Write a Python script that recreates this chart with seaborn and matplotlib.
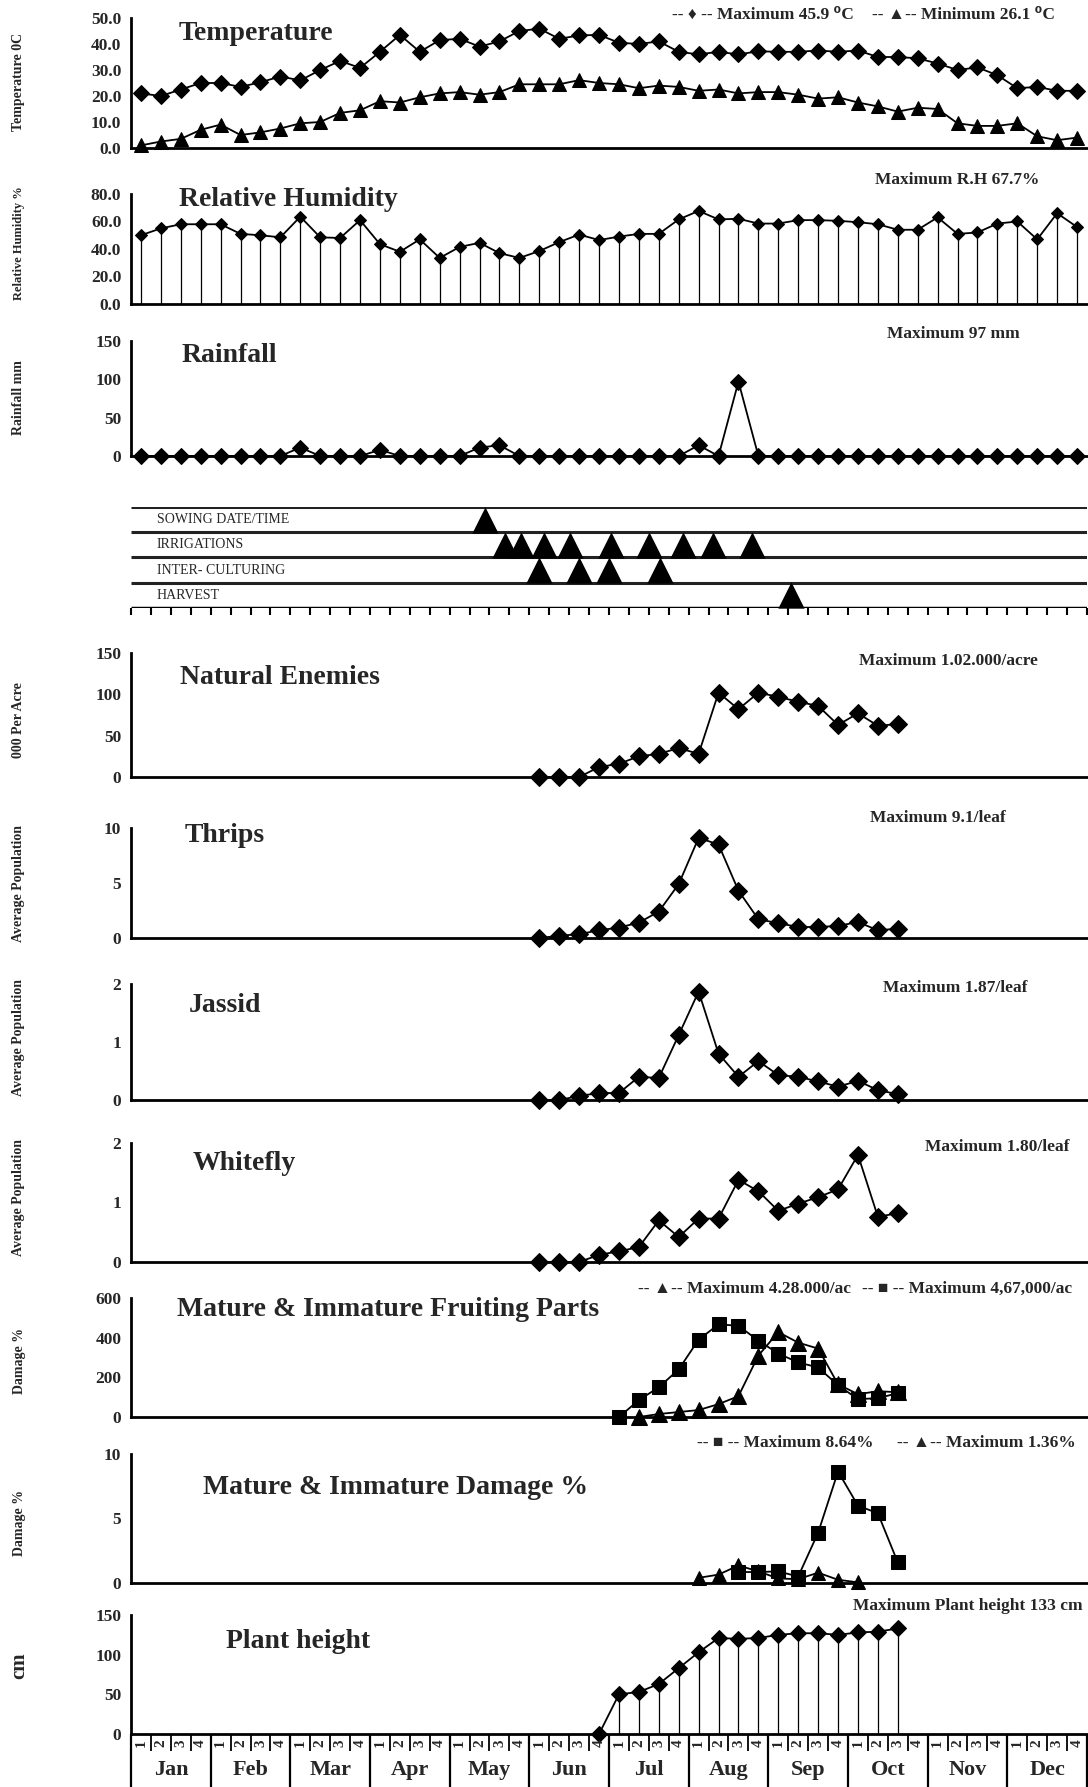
import matplotlib
matplotlib.use('Agg')
import matplotlib.pyplot as plt
import matplotlib.transforms as mtransforms
import seaborn as sns

sns.set_style('white')
plt.rcParams['font.family'] = ['Liberation Serif', 'DejaVu Sans']
plt.rcParams['font.weight'] = 'bold'

# ---- data (week numbers 1..48, four weeks per month) ----
weeks = list(range(1, 49))
months = ['Jan', 'Feb', 'Mar', 'Apr', 'May', 'Jun', 'Jul', 'Aug', 'Sep', 'Oct', 'Nov', 'Dec']

temp_max = [21, 20, 22.5, 25, 25, 23.5, 25.3, 27.5, 26, 30, 33.5, 30.8, 37, 43.5, 37, 41.5,
            42, 39, 41, 45, 45.9, 42, 43.3, 43.5, 40.5, 40, 41, 37, 36, 37, 36, 37.2,
            37, 37, 37.5, 37, 37.5, 35, 35, 34.5, 32.5, 30, 31, 28, 23, 23.5, 22, 22]
temp_min = [1, 2.5, 3.5, 7, 9, 5, 6, 7.5, 9.5, 10, 13.5, 14.5, 18, 17.5, 19.5, 21,
            21.5, 20.5, 21.5, 24.5, 24.5, 24.5, 26.1, 25, 24.5, 23, 24, 23.5, 22, 22.5, 21, 21.5,
            21.5, 20.5, 19, 19.5, 17.5, 16, 14, 15.5, 15, 9.5, 8.5, 8.5, 9.5, 4.5, 3, 4]
rh = [50, 55, 58, 58, 58, 51, 50, 48.5, 63.5, 48.5, 48, 61, 43.5, 38, 47, 33.5,
      41.5, 44.5, 37, 33.5, 38.5, 45, 50.5, 46.5, 49, 51, 51, 61.5, 67.7, 61.5, 62, 58.5,
      58.5, 61, 61, 60.5, 59.5, 58, 54, 54, 63, 51, 52, 58.5, 60, 47, 66, 56]
rain = [0, 0, 0, 0, 0, 0, 0, 0, 11, 0, 0, 0, 8, 0, 0, 0,
        0, 11, 14, 0, 0, 0, 0, 0, 0, 0, 0, 0, 14, 0, 97, 0,
        0, 0, 0, 0, 0, 0, 0, 0, 0, 0, 0, 0, 0, 0, 0, 0]

# crop operations, position in weeks from 1 Jan
sowing = [17.75]
irrigations = [18.8, 19.6, 20.75, 22.05, 24.1, 26.0, 27.7, 29.2, 31.2]
interculture = [20.5, 22.5, 24.0, 26.55]
harvest = [33.15]
ops_rows = ['HARVEST', 'INTER- CULTURING', 'IRRIGATIONS', 'SOWING DATE/TIME']

pest_weeks = list(range(21, 40))
nat_enemies = [0, 0, 0, 12, 16, 25, 28, 35, 28, 102, 82, 102, 97, 91, 86, 63, 77, 62, 64]
thrips = [0, 0.2, 0.35, 0.7, 0.95, 1.4, 2.4, 4.9, 9.1, 8.5, 4.3, 1.7, 1.35, 1.0, 1.0, 1.1, 1.45, 0.7, 0.85]
jassid = [0, 0, 0.07, 0.12, 0.12, 0.4, 0.38, 1.12, 1.87, 0.8, 0.4, 0.67, 0.43, 0.4, 0.32, 0.23, 0.33, 0.17, 0.1]
whitefly = [0, 0, 0, 0.12, 0.18, 0.25, 0.7, 0.42, 0.73, 0.73, 1.38, 1.19, 0.86, 0.98, 1.09, 1.22, 1.80, 0.76, 0.82]

sq_weeks = list(range(25, 40))
fruit_sq = [0, 85, 150, 240, 390, 467, 460, 385, 320, 275, 250, 160, 90, 95, 120]
tri_weeks = list(range(26, 40))
fruit_tri = [0, 15, 25, 35, 65, 105, 310, 428, 375, 345, 165, 115, 130, 125]

dmg_sq_weeks = list(range(31, 40))
dmg_sq = [0.85, 0.85, 0.9, 0.5, 3.9, 8.64, 6.0, 5.4, 1.6]
dmg_tri_weeks = list(range(29, 38))
dmg_tri = [0.4, 0.65, 1.36, 0.9, 0.35, 0.3, 0.8, 0.25, 0.05]

height_weeks = list(range(24, 40))
plant_height = [0, 50, 53, 63, 83, 103, 121, 120, 121, 125, 127, 127, 125, 128, 129, 133]

# ---- layout helpers (pixel based, figure 1088 x 1787) ----
W, H = 1088, 1787
fig = plt.figure(figsize=(W / 100, H / 100), dpi=100)
X0, X1 = 131, 1087
TITLE = 20   # panel titles
NOTE = 12.5  # "Maximum ..." notes


def new_ax(top, bottom, ymax, yticks, fmt):
    ax = fig.add_axes([X0 / W, 1 - bottom / H, (X1 - X0) / W, (bottom - top) / H])
    ax.set_xlim(0, 48)
    ax.set_ylim(0, ymax)
    ax.set_xticks(range(49))
    ax.set_yticks(yticks)
    ax.set_yticklabels([fmt.format(v) for v in yticks])
    ax.tick_params(axis='x', direction='out', length=5, width=1.5, labelbottom=False)
    ax.tick_params(axis='y', direction='out', length=4, width=1.5, labelsize=12.5, pad=3)
    for s in ['top', 'right']:
        ax.spines[s].set_visible(False)
    for s in ['left', 'bottom']:
        ax.spines[s].set_linewidth(2)
        ax.spines[s].set_color('black')
    ax.set_xlabel('')
    return ax


def ftext(x, y, s, **kw):
    fig.text(x / W, 1 - y / H, s, **kw)


def ylab(y, s, size=10):
    ftext(19, y, s, rotation=90, ha='center', va='center', fontsize=size)


def series(ax, wk, vals, marker, ms):
    xs = [w - 0.5 for w in wk]
    sns.lineplot(x=xs, y=vals, ax=ax, color='black', lw=1.3, marker=marker, markersize=ms,
                 markeredgecolor='black', clip_on=False, zorder=3)
    return xs


# temperature
ax = new_ax(18, 148, 50, [0, 10, 20, 30, 40, 50], '{:.1f}')
series(ax, weeks, temp_max, 'D', 8)
series(ax, weeks, temp_min, '^', 10)
ylab(82, 'Temperature 0C')
ftext(179, 34, 'Temperature', fontsize=TITLE, va='center')
ftext(672, 15, '-- \u2666 -- Maximum 45.9 \u2070C', fontsize=NOTE, va='center')
ftext(872, 15, '-- \u25b2-- Minimum 26.1 \u2070C', fontsize=NOTE, va='center')

# relative humidity
ax = new_ax(194, 304, 80, [0, 20, 40, 60, 80], '{:.1f}')
xs = series(ax, weeks, rh, 'D', 6)
ax.vlines(xs, 0, rh, color='black', lw=0.9)
ylab(243, 'Relative Humidity %', 9)
ftext(179, 200, 'Relative Humidity', fontsize=TITLE, va='center')
ftext(957, 180, 'Maximum R.H 67.7%', fontsize=NOTE, ha='center', va='center')

# rainfall
ax = new_ax(341, 456, 150, [0, 50, 100, 150], '{:.0f}')
series(ax, weeks, rain, 'D', 8)
ylab(398, 'Rainfall mm')
ftext(182, 355, 'Rainfall', fontsize=TITLE, va='center')
ftext(953, 334, 'Maximum 97 mm', fontsize=NOTE, ha='center', va='center')

# crop operations schedule
ax = fig.add_axes([X0 / W, 1 - 608 / H, (X1 - X0) / W, (608 - 507) / H])
ax.set_xlim(0, 48)
ax.set_ylim(0, 4)
ax.axis('off')
ax.hlines([1, 2, 3, 4], 0, 48, color='#222222', lw=2.2)
ax.hlines([0], 0, 48, color='black', lw=2.5)
ax.vlines(range(49), -0.28, 0, color='black', lw=1.5, clip_on=False)
for i, lab in enumerate(ops_rows):
    ax.text(1.3, i + 0.5, lab, fontsize=10, fontweight='normal', va='center', ha='left')
for i, ev in enumerate([harvest, interculture, irrigations, sowing]):
    sns.scatterplot(x=ev, y=[i + 0.5] * len(ev), ax=ax, marker='^', s=360, color='black',
                    edgecolor='black', linewidth=0, clip_on=False, zorder=3)

# natural enemies
ax = new_ax(653, 777, 150, [0, 50, 100, 150], '{:.0f}')
series(ax, pest_weeks, nat_enemies, 'D', 9)
ylab(720, '000 Per Acre')
ftext(180, 677, 'Natural Enemies', fontsize=TITLE, va='center')
ftext(948, 661, 'Maximum 1.02.000/acre', fontsize=NOTE, ha='center', va='center')

# thrips
ax = new_ax(828, 938, 10, [0, 5, 10], '{:.0f}')
series(ax, pest_weeks, thrips, 'D', 9)
ylab(883, 'Average Population')
ftext(185, 836, 'Thrips', fontsize=TITLE, va='center')
ftext(938, 818, 'Maximum 9.1/leaf', fontsize=NOTE, ha='center', va='center')

# jassid
ax = new_ax(984, 1100, 2, [0, 1, 2], '{:.0f}')
series(ax, pest_weeks, jassid, 'D', 9)
ylab(1038, 'Average Population')
ftext(189, 1006, 'Jassid', fontsize=TITLE, va='center')
ftext(955, 988, 'Maximum 1.87/leaf', fontsize=NOTE, ha='center', va='center')

# whitefly
ax = new_ax(1143, 1262, 2, [0, 1, 2], '{:.0f}')
series(ax, pest_weeks, whitefly, 'D', 9)
ylab(1198, 'Average Population')
ftext(193, 1164, 'Whitefly', fontsize=TITLE, va='center')
ftext(997, 1147, 'Maximum 1.80/leaf', fontsize=NOTE, ha='center', va='center')

# fruiting parts
ax = new_ax(1298, 1417, 600, [0, 200, 400, 600], '{:.0f}')
series(ax, tri_weeks, fruit_tri, '^', 11)
series(ax, sq_weeks, fruit_sq, 's', 10)
ylab(1361, 'Damage %')
ftext(177, 1309, 'Mature & Immature Fruiting Parts', fontsize=TITLE, va='center')
ftext(638, 1289, '-- \u25b2-- Maximum 4.28.000/ac', fontsize=NOTE, va='center')
ftext(862, 1289, '-- \u25a0 -- Maximum 4,67,000/ac', fontsize=NOTE, va='center')

# damage %
ax = new_ax(1454, 1583, 10, [0, 5, 10], '{:.0f}')
series(ax, dmg_tri_weeks, dmg_tri, '^', 10)
series(ax, dmg_sq_weeks, dmg_sq, 's', 10)
ylab(1523, 'Damage %')
ftext(203, 1488, 'Mature & Immature Damage %', fontsize=TITLE, va='center')
ftext(697, 1443, '-- \u25a0 -- Maximum 8.64%', fontsize=NOTE, va='center')
ftext(897, 1443, '-- \u25b2-- Maximum 1.36%', fontsize=NOTE, va='center')

# plant height with week / month axis
ax = new_ax(1615, 1734, 150, [0, 50, 100, 150], '{:.0f}')
xs = series(ax, height_weeks, plant_height, 'D', 8)
ax.vlines(xs, 0, plant_height, color='black', lw=0.9)
ylab(1666, 'cm', 15)
ftext(226, 1642, 'Plant height', fontsize=TITLE, va='center')
ftext(968, 1606, 'Maximum Plant height 133 cm', fontsize=NOTE, ha='center', va='center')
ax.set_xticks([])
trans = mtransforms.blended_transform_factory(ax.transData, ax.transAxes)
ax_h = 1734 - 1615
ax.vlines(range(49), -17 / ax_h, 0, transform=trans, color='black', lw=1.3, clip_on=False)
ax.vlines(range(0, 49, 4), -55 / ax_h, 0, transform=trans, color='black', lw=1.6, clip_on=False)
for w in weeks:
    ax.text(w - 0.5, -9 / ax_h, str((w - 1) % 4 + 1), transform=trans, rotation=90,
            ha='center', va='center', fontsize=11)
for m, name in enumerate(months):
    ax.text(m * 4 + 2, -36 / ax_h, name, transform=trans, ha='center', va='center', fontsize=16)

fig.savefig('out.png', dpi=100)
